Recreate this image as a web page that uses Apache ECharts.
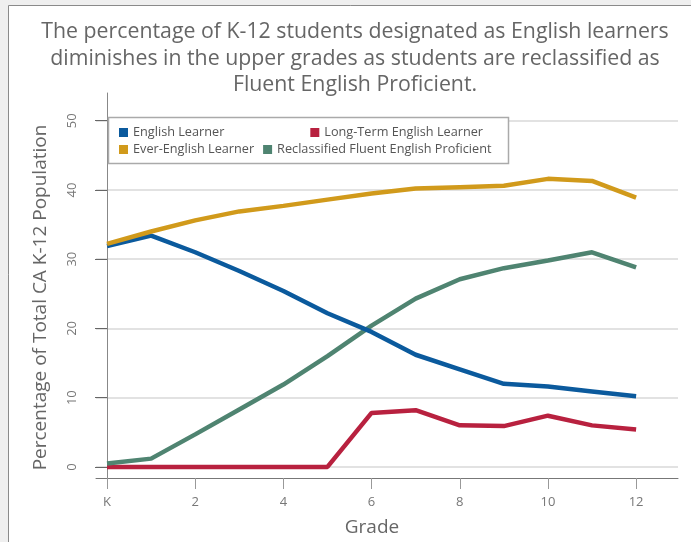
<!DOCTYPE html>
<html>
<head>
<meta charset="utf-8">
<script src="https://cdn.jsdelivr.net/npm/echarts@6/dist/echarts.min.js"></script>
<style>
  html, body { margin: 0; padding: 0; background: #efefef; }
  #chart { width: 691px; height: 542px; }
</style>
</head>
<body>
<div id="chart"></div>
<script>
// Grades K..12 (K = 0)
const grades = [0, 1, 2, 3, 4, 5, 6, 7, 8, 9, 10, 11, 12]
const gradeTicks = [0, 2, 4, 6, 8, 10, 12]
const percentTicks = [0, 10, 20, 30, 40, 50]

// Percent of total CA K-12 population
const englishLearner = [31.9, 33.4, 31.0, 28.3, 25.4, 22.2, 19.5, 16.2, 14.1, 12.0, 11.6, 10.9, 10.2]
const longTermEL = [0, 0, 0, 0, 0, 0, 7.8, 8.2, 6.0, 5.9, 7.4, 6.0, 5.4]
const everEL = [32.2, 34.0, 35.6, 36.9, 37.7, 38.6, 39.5, 40.2, 40.4, 40.6, 41.6, 41.3, 38.9]
const reclassified = [0.5, 1.2, 4.7, 8.3, 11.9, 16.0, 20.4, 24.3, 27.1, 28.7, 29.8, 31.0, 28.8]

const FONT = "'Open Sans', sans-serif"

function pairs(values) {
  return grades.map((g, i) => [g, values[i]])
}

const chart = echarts.init(document.getElementById("chart"))

function lineSeries(name, color, values) {
  return {
    name,
    type: "line",
    data: pairs(values),
    showSymbol: false,
    symbol: "none",
    lineStyle: { color, width: 4.5 },
    itemStyle: { color },
    emphasis: { disabled: true }
  }
}

const legendBase = {
  left: 119,
  z: 10,
  orient: "horizontal",
  padding: 0,
  icon: "rect",
  itemWidth: 9,
  itemHeight: 9,
  textStyle: { fontFamily: FONT, fontSize: 12.7, color: "#555" },
  selectedMode: false
}

chart.setOption({
  backgroundColor: "#efefef",
  animation: false,
  graphic: [
    {
      type: "rect",
      z: -10,
      shape: { x: 8.5, y: 5.5, width: 700, height: 600 },
      style: { fill: "#fff", stroke: "#8a8a8a", lineWidth: 1 }
    },
    {
      type: "rect",
      z: 5,
      shape: { x: 108.5, y: 117.5, width: 400, height: 46 },
      style: { fill: "#fff", stroke: "#aaa", lineWidth: 1.5 }
    }
  ],
  title: {
    text: "The percentage of K-12 students designated as English learners\ndiminishes in the upper grades as students are reclassified as\nFluent English Proficient.",
    left: 350,
    top: 14,
    textAlign: "center",
    textStyle: {
      fontFamily: FONT,
      fontSize: 21.3,
      fontWeight: "normal",
      color: "#666",
      lineHeight: 26.5
    }
  },
  legend: [
    Object.assign({}, legendBase, {
      top: 126,
      itemGap: 86,
      data: ["English Learner", "Long-Term English Learner"]
    }),
    Object.assign({}, legendBase, {
      top: 143,
      itemGap: 9,
      data: ["Ever-English Learner", "Reclassified Fluent English Proficient"]
    })
  ],
  grid: {
    left: 96,
    right: 13,
    top: 93,
    bottom: 64
  },
  xAxis: {
    type: "value",
    min: -0.25,
    max: 12.95,
    name: "Grade",
    nameLocation: "middle",
    nameGap: 40,
    nameTextStyle: { fontFamily: FONT, fontSize: 19, color: "#666", padding: [0, 30, 0, 0] },
    axisLine: { onZero: false, lineStyle: { color: "#777", width: 1 } },
    axisTick: { show: true, length: 11, customValues: gradeTicks, lineStyle: { color: "#999" } },
    axisLabel: {
      customValues: gradeTicks,
      margin: 18,
      fontFamily: FONT,
      fontSize: 13,
      color: "#777",
      formatter: v => (v === 0 ? "K" : String(v))
    },
    splitLine: { show: false }
  },
  yAxis: {
    type: "value",
    min: -1.6,
    max: 54,
    name: "Percentage of Total CA K-12 Population",
    nameLocation: "middle",
    nameGap: 46,
    nameRotate: 90,
    nameTextStyle: { fontFamily: FONT, fontSize: 19, color: "#666", padding: [0, 24, 0, 0] },
    axisLine: { show: true, lineStyle: { color: "#888", width: 1 } },
    axisTick: { show: true, length: 12, customValues: percentTicks, lineStyle: { color: "#666" } },
    axisLabel: {
      customValues: percentTicks,
      rotate: 90,
      margin: 17,
      fontFamily: FONT,
      fontSize: 13,
      color: "#777"
    },
    splitLine: { show: true, lineStyle: { color: "#d8d8d8", width: 1.5 } }
  },
  series: [
    lineSeries("Long-Term English Learner", "#b8213f", longTermEL),
    lineSeries("Reclassified Fluent English Proficient", "#4f8471", reclassified),
    lineSeries("English Learner", "#0b5a9d", englishLearner),
    lineSeries("Ever-English Learner", "#d19a1b", everEL)
  ]
})
</script>
</body>
</html>
